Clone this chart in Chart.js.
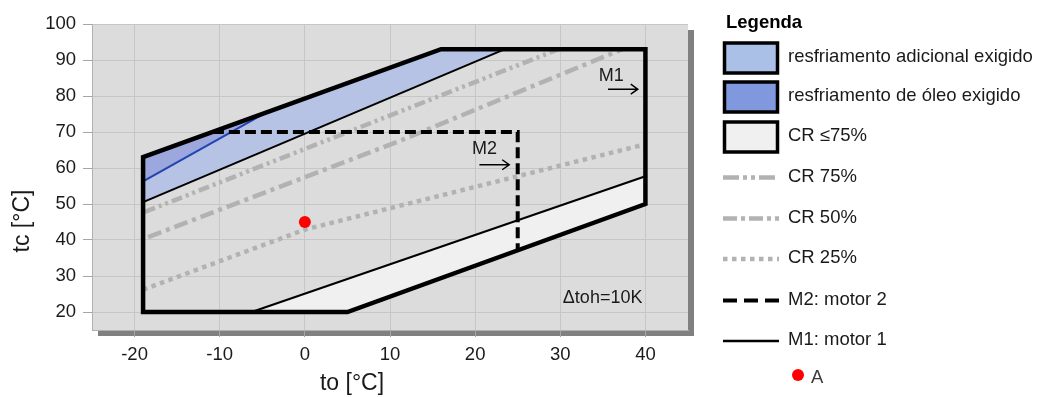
<!DOCTYPE html>
<html>
<head>
<meta charset="utf-8">
<script src="https://cdn.jsdelivr.net/npm/chart.js@4.4.1/dist/chart.umd.min.js"></script>
<style>
  html, body { margin: 0; padding: 0; background: #ffffff; width: 1048px; height: 397px; overflow: hidden; }
  canvas { display: block; }
</style>
</head>
<body>
<canvas id="envelope" width="1048" height="397"></canvas>
<script>
// Tick values of both axes
const xTickValues = [-20, -10, 0, 10, 20, 30, 40];
const yTickValues = [20, 30, 40, 50, 60, 70, 80, 90, 100];

// M1 application envelope (to / tc in °C)
const m1To = [-19, 5, 40, 40, 16, -19, -19];
const m1Tc = [20, 20, 50, 93, 93, 63, 20];

// M2 limit (dashed)
const m2To = [-10.8, 25, 25];
const m2Tc = [70, 70, 37.1];

// additional cooling zone
const extraTo = [-19, 16, 23.5, -19];
const extraTc = [63, 93, 93, 50.5];
const extraEdgeTo = [-19, 23.5];
const extraEdgeTc = [50.5, 93];

// oil cooling zone
const oilTo = [-19, -5.1, -19];
const oilTc = [63, 74.7, 56.3];
const oilEdgeTo = [-19, -5.1];
const oilEdgeTc = [56.3, 74.7];

// CR <= 75 % zone
const crLowTo = [-6.25, 5, 40, 40];
const crLowTc = [20, 20, 50, 57.7];
const crLowEdgeTo = [-6.25, 40];
const crLowEdgeTc = [20, 57.7];

// capacity regulation lines
const cr75To = [-18.8, 29.8];
const cr75Tc = [47.8, 93];
const cr50To = [-18.4, 11, 37.3];
const cr50Tc = [40.8, 67.4, 93];
const cr25To = [-19, 0, 40];
const cr25Tc = [26.2, 42.9, 66.6];

// operating point A
const pointATo = [0];
const pointATc = [45];

// legend texts
const legendTitle = 'Legenda';
const legendLabels = [
  'resfriamento adicional exigido',
  'resfriamento de óleo exigido',
  'CR ≤75%',
  'CR 75%',
  'CR 50%',
  'CR 25%',
  'M2: motor 2',
  'M1: motor 1',
  'A'
];

const FONT = '"Liberation Sans", Arial, Helvetica, sans-serif';
const TEXT = '#1a1a1a';
const GRAY_LINE = '#b2b2b2';
const FILL_EXTRA = '#b6c3e4';
const FILL_OIL = '#9ba7dd';
const FILL_LOW = '#f0f0f0';
const LEG_EXTRA = '#abc0e6';
const LEG_OIL = '#7f98de';

const DASH_CR75 = [11, 4, 3, 4, 3, 4];
const DASH_CR50 = [14, 5, 4, 5];
const DASH_CR25 = [4.5, 4.5];
const DASH_M2 = [11, 5];

function pts(xs, ys) {
  return xs.map((v, i) => ({ x: v, y: ys[i] }));
}
function closed(xs, ys) {
  const p = pts(xs, ys);
  p.push({ x: xs[0], y: ys[0] });
  return p;
}

const datasets = [
  { label: 'A', data: pts(pointATo, pointATc), showLine: false,
    pointRadius: 6, pointBackgroundColor: '#ff0000', pointBorderWidth: 0, order: 0 },
  { label: 'M1', data: pts(m1To, m1Tc), borderColor: '#000000', borderWidth: 4.5,
    borderJoinStyle: 'miter', borderCapStyle: 'square', fill: false, order: 1 },
  { label: 'M2', data: pts(m2To, m2Tc), borderColor: '#000000', borderWidth: 4,
    borderDash: DASH_M2, borderJoinStyle: 'miter', fill: false, order: 2 },
  { label: 'extraEdge', data: pts(extraEdgeTo, extraEdgeTc), borderColor: '#000000',
    borderWidth: 2, fill: false, order: 3 },
  { label: 'oilEdge', data: pts(oilEdgeTo, oilEdgeTc), borderColor: '#2343b0',
    borderWidth: 2, fill: false, order: 3 },
  { label: 'crLowEdge', data: pts(crLowEdgeTo, crLowEdgeTc), borderColor: '#000000',
    borderWidth: 2, fill: false, order: 3 },
  { label: 'CR 75%', data: pts(cr75To, cr75Tc), borderColor: GRAY_LINE, borderWidth: 4.5,
    borderDash: DASH_CR75, fill: false, order: 4 },
  { label: 'CR 50%', data: pts(cr50To, cr50Tc), borderColor: GRAY_LINE, borderWidth: 4.5,
    borderDash: DASH_CR50, fill: false, order: 4 },
  { label: 'CR 25%', data: pts(cr25To, cr25Tc), borderColor: GRAY_LINE, borderWidth: 4.5,
    borderDash: DASH_CR25, fill: false, order: 4 },
  { label: 'CR ≤75%', data: closed(crLowTo, crLowTc), borderColor: 'rgba(0,0,0,0)',
    borderWidth: 0, backgroundColor: FILL_LOW, fill: 'shape', order: 5 },
  { label: 'oil', data: closed(oilTo, oilTc), borderColor: 'rgba(0,0,0,0)',
    borderWidth: 0, backgroundColor: FILL_OIL, fill: 'shape', order: 6 },
  { label: 'extra', data: closed(extraTo, extraTc), borderColor: 'rgba(0,0,0,0)',
    borderWidth: 0, backgroundColor: FILL_EXTRA, fill: 'shape', order: 7 }
];

// gray plot panel with drop shadow
const plotPanel = {
  id: 'plotPanel',
  beforeDraw(chart) {
    const { ctx, chartArea: a } = chart;
    ctx.save();
    ctx.fillStyle = '#808080';
    ctx.fillRect(a.left + 6, a.top + 6, a.width, a.height);
    ctx.fillStyle = '#dcdcdc';
    ctx.fillRect(a.left, a.top, a.width, a.height);
    ctx.restore();
  }
};

function arrow(ctx, x1, x2, y) {
  ctx.beginPath();
  ctx.moveTo(x1, y);
  ctx.lineTo(x2, y);
  ctx.moveTo(x2 - 7, y - 5);
  ctx.lineTo(x2, y);
  ctx.lineTo(x2 - 7, y + 5);
  ctx.stroke();
}

// motor labels, arrows and superheat note
const plotNotes = {
  id: 'plotNotes',
  afterDatasetsDraw(chart) {
    const { ctx, scales: { x, y } } = chart;
    ctx.save();
    ctx.fillStyle = TEXT;
    ctx.strokeStyle = '#000000';
    ctx.lineWidth = 1.5;
    ctx.font = '18px ' + FONT;
    ctx.textBaseline = 'alphabetic';
    ctx.textAlign = 'center';
    ctx.fillText('M1', x.getPixelForValue(36.0), y.getPixelForValue(84.1));
    arrow(ctx, x.getPixelForValue(35.6), x.getPixelForValue(39.1), y.getPixelForValue(81.9));
    ctx.fillText('M2', x.getPixelForValue(21.1), y.getPixelForValue(64.0));
    arrow(ctx, x.getPixelForValue(20.5), x.getPixelForValue(24.0), y.getPixelForValue(60.9));
    ctx.textAlign = 'left';
    ctx.fillText('Δtoh=10K', x.getPixelForValue(30.3), y.getPixelForValue(22.5));
    ctx.restore();
  }
};

// axis titles placed under / beside the panel
const axisTitles = {
  id: 'axisTitles',
  afterDraw(chart) {
    const { ctx } = chart;
    ctx.save();
    ctx.fillStyle = TEXT;
    ctx.font = '23px ' + FONT;
    ctx.textAlign = 'center';
    ctx.textBaseline = 'alphabetic';
    ctx.fillText('to [°C]', 352, 390);
    ctx.translate(29, 221);
    ctx.rotate(-Math.PI / 2);
    ctx.fillText('tc [°C]', 0, 0);
    ctx.restore();
  }
};

// legend on the right
const sideLegend = {
  id: 'sideLegend',
  afterDraw(chart) {
    const { ctx } = chart;
    const baselines = [61.5, 100.5, 140.5, 181.5, 222.5, 263, 304.5, 345, 383];
    const textX = 788;
    const sx1 = 723, sx2 = 779;
    ctx.save();
    ctx.fillStyle = '#000000';
    ctx.font = 'bold 18.5px ' + FONT;
    ctx.textBaseline = 'alphabetic';
    ctx.textAlign = 'left';
    ctx.fillText(legendTitle, 726, 28);

    // filled boxes
    const fills = [LEG_EXTRA, LEG_OIL, FILL_LOW];
    fills.forEach((c, i) => {
      const top = baselines[i] - 20;
      ctx.fillStyle = c;
      ctx.fillRect(sx1 + 1.5, top + 1.5, sx2 - sx1 - 3, 30);
      ctx.strokeStyle = '#000000';
      ctx.lineWidth = 3.5;
      ctx.strokeRect(sx1 + 1.5, top + 1.5, sx2 - sx1 - 3, 30);
    });

    // line samples
    const lines = [
      { i: 3, color: GRAY_LINE, w: 4.5, dash: [16, 4, 4, 4, 4, 4] },
      { i: 4, color: GRAY_LINE, w: 4.5, dash: [14, 4, 4, 4] },
      { i: 5, color: GRAY_LINE, w: 4.5, dash: DASH_CR25 },
      { i: 6, color: '#000000', w: 4, dash: [14, 7] },
      { i: 7, color: '#000000', w: 2.5, dash: [] }
    ];
    lines.forEach(l => {
      const yy = baselines[l.i] - 4;
      ctx.strokeStyle = l.color;
      ctx.lineWidth = l.w;
      ctx.setLineDash(l.dash);
      ctx.beginPath();
      ctx.moveTo(sx1, yy);
      ctx.lineTo(sx2, yy);
      ctx.stroke();
    });
    ctx.setLineDash([]);

    // point marker
    ctx.fillStyle = '#ff0000';
    ctx.beginPath();
    ctx.arc(798, baselines[8] - 8, 6, 0, Math.PI * 2);
    ctx.fill();

    ctx.font = '18.5px ' + FONT;
    ctx.fillStyle = TEXT;
    legendLabels.forEach((t, i) => {
      if (i === 8) {
        ctx.fillStyle = '#3a3a3a';
        ctx.fillText(t, 811, baselines[i]);
      } else {
        ctx.fillText(t, textX, baselines[i]);
      }
    });
    ctx.restore();
  }
};

new Chart(document.getElementById('envelope'), {
  type: 'line',
  data: { datasets },
  plugins: [plotPanel, plotNotes, axisTitles, sideLegend],
  options: {
    responsive: false,
    animation: false,
    devicePixelRatio: 1,
    layout: { padding: { left: 0, top: 24, right: 360, bottom: 0 } },
    elements: { point: { radius: 0 }, line: { tension: 0 } },
    plugins: { legend: { display: false }, tooltip: { enabled: false } },
    scales: {
      x: {
        type: 'linear', min: -25, max: 45,
        afterBuildTicks: s => { s.ticks = xTickValues.map(v => ({ value: v })); },
        afterFit: s => { s.height = 67; },
        grid: { color: '#c6c6c6', lineWidth: 1, tickLength: 7, tickColor: '#a6a6a6' },
        border: { color: '#b0b0b0' },
        ticks: { color: TEXT, font: { family: FONT, size: 18.5 }, padding: 7, maxRotation: 0 }
      },
      y: {
        type: 'linear', min: 15, max: 100,
        afterBuildTicks: s => { s.ticks = yTickValues.map(v => ({ value: v })); },
        afterFit: s => { s.width = 92; },
        grid: { color: '#c6c6c6', lineWidth: 1, tickLength: 9, tickColor: '#a6a6a6' },
        border: { color: '#b0b0b0' },
        ticks: { color: TEXT, font: { family: FONT, size: 18.5 }, padding: 7 }
      }
    }
  }
});
</script>
</body>
</html>
